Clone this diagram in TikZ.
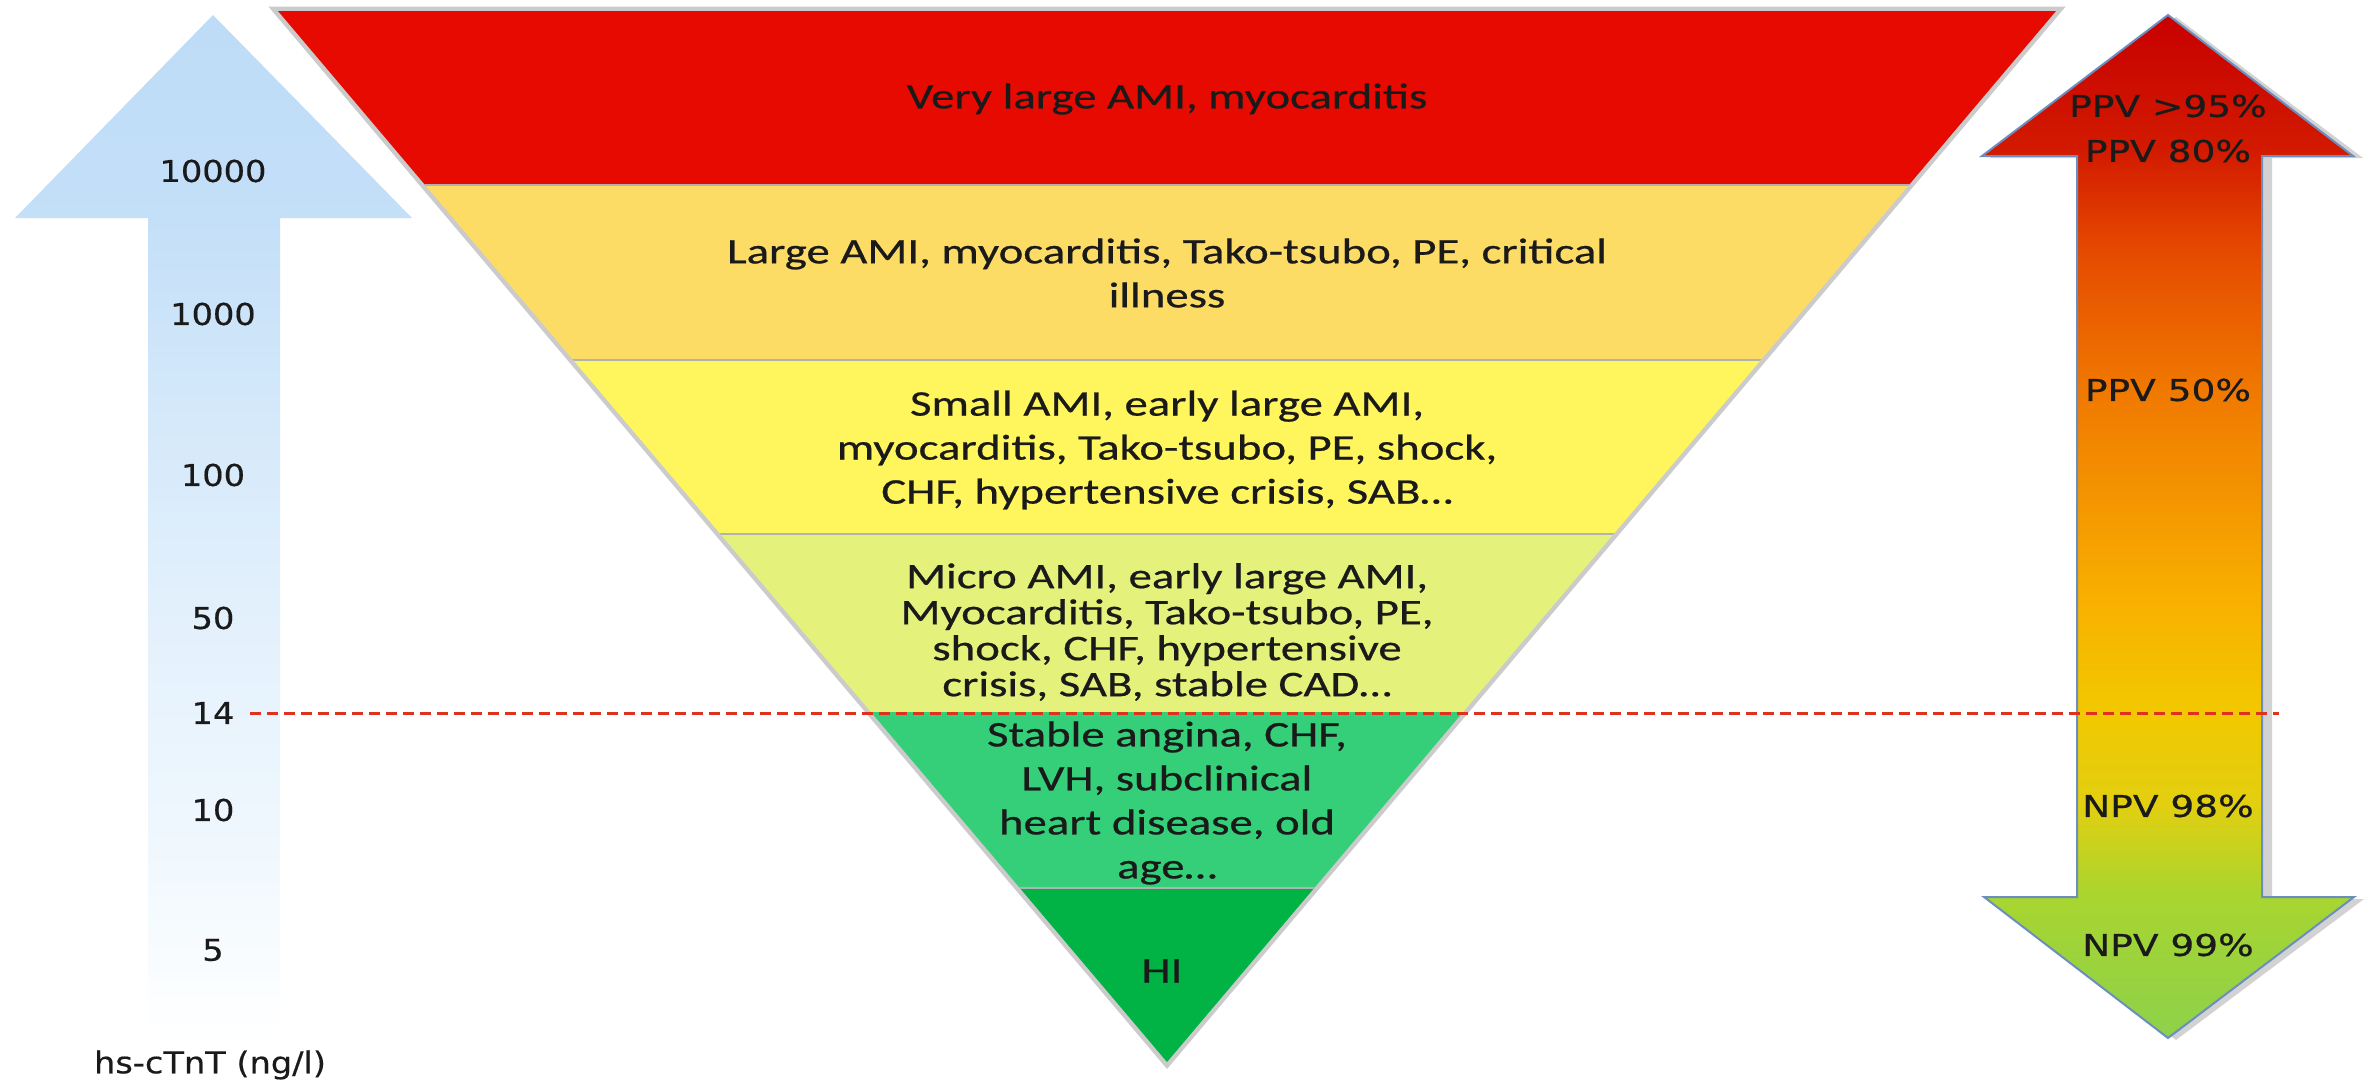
\documentclass[tikz,border=0pt]{standalone}
\usepackage{fontspec}
\setmainfont{Carlito}[FakeStretch=1.3,FakeBold=0.6]
\newfontfamily\lblfont{DejaVu Sans}[FakeStretch=1.25,FakeBold=0.5]
\newfontfamily\axfont{DejaVu Sans}[FakeStretch=1.12,FakeBold=0.5]
\definecolor{cRed}{HTML}{E60A00}
\definecolor{cGold}{HTML}{FDDC66}
\definecolor{cYel}{HTML}{FFF55C}
\definecolor{cLime}{HTML}{E4F27C}
\definecolor{cGrn}{HTML}{34CF78}
\definecolor{cDGrn}{HTML}{00B344}
\definecolor{txt}{HTML}{1A1A1A}
\definecolor{dashred}{HTML}{E0301E}
\definecolor{outl}{HTML}{6C8EBF}
\definecolor{ra1}{HTML}{8DD14A}
\definecolor{ra2}{HTML}{A8D530}
\definecolor{ra3}{HTML}{E2CF10}
\definecolor{ra4}{HTML}{F2C800}
\definecolor{ra5}{HTML}{F8B000}
\definecolor{ra6}{HTML}{F07800}
\definecolor{ra7}{HTML}{E54A00}
\definecolor{ra8}{HTML}{D21A00}
\definecolor{ra9}{HTML}{C80000}
\definecolor{la1}{HTML}{FFFFFF}
\definecolor{la2}{HTML}{F0F8FE}
\definecolor{la3}{HTML}{E2F0FC}
\definecolor{la4}{HTML}{D3E8FA}
\definecolor{la5}{HTML}{C4DFF8}
\definecolor{la6}{HTML}{BEDCF7}
\pgfdeclareverticalshading{rarrowshade}{100bp}{color(0bp)=(ra1); color(25bp)=(ra1); color(31.9bp)=(ra2); color(36.4bp)=(ra3); color(40.9bp)=(ra4); color(46.4bp)=(ra5); color(56.7bp)=(ra6); color(63.5bp)=(ra7); color(68.4bp)=(ra8); color(75bp)=(ra9); color(100bp)=(ra9)}
\pgfdeclareverticalshading{larrowshade}{100bp}{color(0bp)=(la1); color(25bp)=(la1); color(34bp)=(la2); color(46.4bp)=(la3); color(56.2bp)=(la4); color(65bp)=(la5); color(75bp)=(la6); color(100bp)=(la6)}
\begin{document}
\begin{tikzpicture}[x=1pt,y=-1pt,
  bandtxt/.style={align=center, text=txt, inner sep=0pt, font=\fontsize{36}{44}\selectfont},
  axlbl/.style={text=txt, inner sep=0pt, font=\axfont\fontsize{30}{36}\selectfont},
  pvlbl/.style={text=txt, inner sep=0pt, font=\lblfont\fontsize{30}{36}\selectfont},
  sepline/.style={draw=black!30, line width=1.5pt}]
\useasboundingbox (0,0) rectangle (2379,1084);

% ---------- left arrow ----------
\shade[shading=larrowshade] (213,15) -- (412,218) -- (280,218) -- (280,1037) -- (148,1037) -- (148,218) -- (15,218) -- cycle;

% ---------- right double arrow ----------
\fill[black!35, opacity=0.5] (2176,17) -- (2363,158) -- (2272,158) -- (2272,899) -- (2364,899) -- (2176,1040) -- (1992,899) -- (2085,899) -- (2085,158) -- (1990,158) -- cycle;
\shade[shading=rarrowshade, draw=outl, line width=2pt] (2168,15) -- (2353,156) -- (2262,156) -- (2262,897) -- (2354,897) -- (2168,1038) -- (1984,897) -- (2077,897) -- (2077,156) -- (1982,156) -- cycle;

% ---------- inverted triangle ----------
\coordinate (TL) at (278,11);
\coordinate (TR) at (2056,11);
\coordinate (AP) at (1167,1062);
\draw[black!45, line width=9pt, opacity=0.45, line join=miter] (TL) -- (TR) -- (AP) -- cycle;
\begin{scope}
  \clip (TL) -- (TR) -- (AP) -- cycle;
  \fill[cRed]  (0,0)   rectangle (2379,185);
  \fill[cGold] (0,185) rectangle (2379,360);
  \fill[cYel]  (0,360) rectangle (2379,534);
  \fill[cLime] (0,534) rectangle (2379,712);
  \fill[cGrn]  (0,712) rectangle (2379,888);
  \fill[cDGrn] (0,888) rectangle (2379,1084);
  \draw[sepline] (0,185) -- (2379,185);
  \draw[sepline] (0,360) -- (2379,360);
  \draw[sepline] (0,534) -- (2379,534);
  \draw[sepline] (0,888) -- (2379,888);
\end{scope}

% ---------- band texts ----------
\node[bandtxt] (b1) at (1167,99) {Very large AMI, myocarditis};
\node[bandtxt] (b2) at (1167,273) {Large AMI, myocarditis, Tako-tsubo, PE, critical\\illness};
\node[bandtxt] (b3) at (1167,450) {Small AMI, early large AMI,\\myocarditis, Tako-tsubo, PE, shock,\\CHF, hypertensive crisis, SAB…};
\node[bandtxt, font=\fontsize{36}{36}\selectfont] (b4) at (1167,632) {Micro AMI, early large AMI,\\Myocarditis, Tako-tsubo, PE,\\shock, CHF, hypertensive\\crisis, SAB, stable CAD…};
\node[bandtxt] (b5) at (1167,803) {Stable angina, CHF,\\LVH, subclinical\\heart disease, old\\age…};
\node[bandtxt] (b6) at (1162,971) {HI};

% ---------- left axis labels ----------
\node[axlbl] (v10000) at (213,171) {10000};
\node[axlbl] (v1000) at (213,314) {1000};
\node[axlbl] (v100) at (213,475) {100};
\node[axlbl] (v50) at (213,618) {50};
\node[axlbl] (v14) at (213,713) {14};
\node[axlbl] (v10) at (213,810) {10};
\node[axlbl] (v5) at (213,950) {5};
\node[axlbl] (unit) at (210,1065) {hs-cTnT (ng/l)};

% ---------- right labels ----------
\node[pvlbl] (p95) at (2168,106) {PPV >95\%};
\node[pvlbl] (p80) at (2168,151) {PPV 80\%};
\node[pvlbl] (p50) at (2168,390) {PPV 50\%};
\node[pvlbl] (n98) at (2168,806) {NPV 98\%};
\node[pvlbl] (n99) at (2168,945) {NPV 99\%};

% ---------- cut-off line ----------
\coordinate (cutL) at (250,713);
\coordinate (cutR) at (2279,713);
\draw[dashred, line width=3pt, dash pattern=on 11pt off 6pt] (cutL) -- (cutR);
\end{tikzpicture}
\end{document}
